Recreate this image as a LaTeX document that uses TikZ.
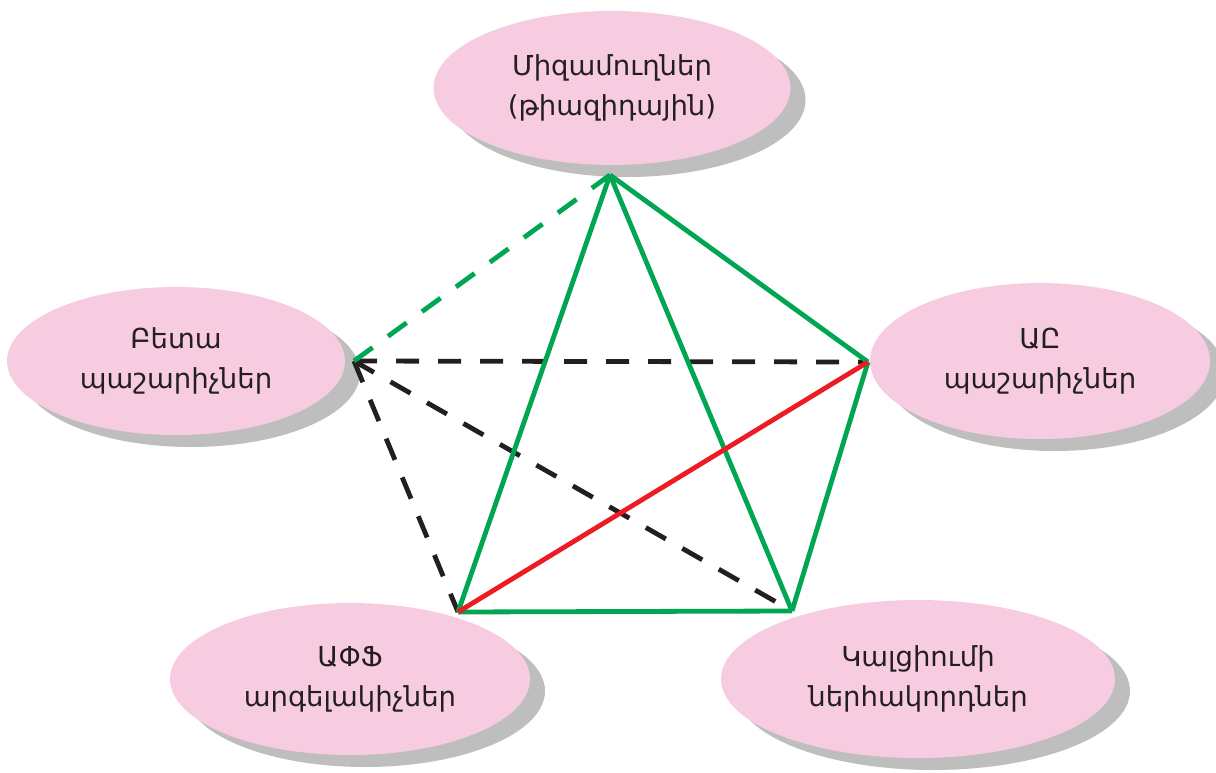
\documentclass[tikz,border=0pt]{standalone}
\usepackage{fontspec}
\setmainfont{DejaVu Sans}
\usetikzlibrary{shapes.geometric}
\definecolor{gr}{RGB}{0,166,81}
\definecolor{rd}{RGB}{237,28,36}
\definecolor{bk}{RGB}{35,31,32}
\definecolor{pk}{RGB}{248,204,224}
\definecolor{sh}{RGB}{190,190,190}
\tikzset{
  bub/.style={ellipse, fill=pk, draw=none, inner sep=0pt, align=center,
    text=bk, font=\fontsize{27.5}{40}\selectfont},
  shad/.style={ellipse, fill=sh, draw=none, inner sep=0pt},
  solidg/.style={draw=gr, line width=4.8pt},
  solidr/.style={draw=rd, line width=4.8pt},
  dashg/.style={draw=gr, line width=4.8pt, dash pattern=on 23pt off 19pt},
  dashk/.style={draw=bk, line width=4.8pt, dash pattern=on 23pt off 19pt},
}
\begin{document}
\begin{tikzpicture}[x=1pt,y=-1pt]
\useasboundingbox (0,0) rectangle (1216,773);
% shadows
\node[shad, minimum width=357pt, minimum height=154pt] (tops) at (627,100) {};
\node[shad, minimum width=338pt, minimum height=148pt] (lefts) at (191,373) {};
\node[shad, minimum width=340pt, minimum height=156pt] (rights) at (1055,373) {};
\node[shad, minimum width=360pt, minimum height=152pt] (blls) at (365,691) {};
\node[shad, minimum width=394pt, minimum height=158pt] (brrs) at (933,691) {};
% ellipses
\node[bub, minimum width=357pt, minimum height=154pt] (top) at (612,88) {Միզամուղներ\\(թիազիդային)};
\node[bub, minimum width=338pt, minimum height=148pt] (left) at (176,361) {Բետա\\պաշարիչներ};
\node[bub, minimum width=340pt, minimum height=156pt] (right) at (1040,361) {ԱԸ\\պաշարիչներ};
\node[bub, minimum width=360pt, minimum height=152pt] (bl) at (350,679) {ԱՓՖ\\արգելակիչներ};
\node[bub, minimum width=394pt, minimum height=158pt] (br) at (918,679) {Կալցիումի\\ներհակորդներ};
% connection points
\coordinate (pA) at (610,175);
\coordinate (pB) at (354,361);
\coordinate (pC) at (868,362);
\coordinate (pD) at (458,612);
\coordinate (pE) at (792,611);
% edges
\draw[dashk] (pB) -- (pC);
\draw[dashk] (pB) -- (pD);
\draw[dashk] (pB) -- (pE);
\draw[dashg] (pB) -- (pA);
\draw[solidg] (pA) -- (pD);
\draw[solidg] (pA) -- (pE);
\draw[solidg] (pA) -- (pC);
\draw[solidg] (pC) -- (pE);
\draw[solidg] (pD) -- (pE);
\draw[solidr] (pD) -- (pC);
\end{tikzpicture}
\end{document}
